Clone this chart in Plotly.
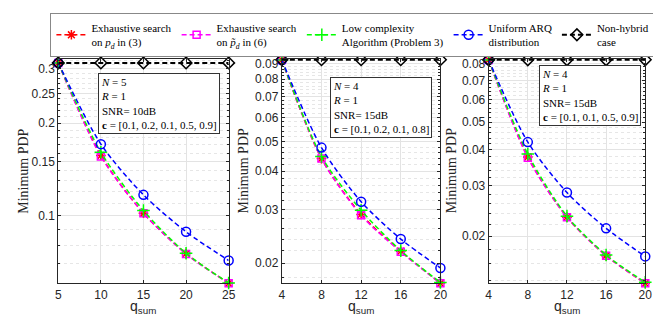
import math
import plotly.graph_objects as go

# ---------------- data ----------------
q1 = [5, 10, 15, 20, 25]
ex_pd_1 = [0.314, 0.157, 0.102, 0.0754, 0.0604]
ex_pt_1 = [0.314, 0.156, 0.102, 0.0752, 0.0604]
low_1 = [0.314, 0.161, 0.104, 0.0756, 0.0605]
unif_1 = [0.314, 0.171, 0.117, 0.0888, 0.0716]
nonhyb_1 = [0.314, 0.314, 0.314, 0.314, 0.314]

q2 = [4, 8, 12, 16, 20]
ex_pd_2 = [0.0925, 0.0440, 0.0289, 0.0219, 0.0172]
ex_pt_2 = [0.0925, 0.0440, 0.0287, 0.0218, 0.0172]
low_2 = [0.0925, 0.0447, 0.0298, 0.0220, 0.0173]
unif_2 = [0.0925, 0.0478, 0.0318, 0.0240, 0.0193]
nonhyb_2 = [0.0927, 0.0927, 0.0927, 0.0927, 0.0927]

q3 = [4, 8, 12, 16, 20]
ex_pd_3 = [0.0825, 0.0378, 0.0233, 0.0171, 0.0137]
ex_pt_3 = [0.0825, 0.0376, 0.0233, 0.0171, 0.0137]
low_3 = [0.0825, 0.0387, 0.0235, 0.0172, 0.0138]
unif_3 = [0.0825, 0.0426, 0.0284, 0.0213, 0.0170]
nonhyb_3 = [0.0826, 0.0826, 0.0826, 0.0826, 0.0826]

yticks_1 = [0.1, 0.15, 0.2, 0.25, 0.3]
yticks_2 = [0.02, 0.03, 0.04, 0.05, 0.06, 0.07, 0.08, 0.09]
yticks_3 = [0.02, 0.03, 0.04, 0.05, 0.06, 0.07, 0.08]

legend_names = [
    "Exhaustive search<br>on <i>p<sub>d</sub></i> in (3)",
    "Exhaustive search<br>on <i>p̃<sub>d</sub></i> in (6)",
    "Low complexity<br>Algorithm (Problem 3)",
    "Uniform ARQ<br>distribution",
    "Non-hybrid<br>case",
]

box_texts = [
    "<i>N</i> = 5<br><i>R</i> = 1<br>SNR= 10dB<br><b>c</b> = [0.1, 0.2, 0.1, 0.5, 0.9]",
    "<i>N</i> = 4<br><i>R</i> = 1<br>SNR= 15dB<br><b>c</b> = [0.1, 0.2, 0.1, 0.8]",
    "<i>N</i> = 4<br><i>R</i> = 1<br>SNR= 15dB<br><b>c</b> = [0.1, 0.1, 0.5, 0.9]",
]

# ---------------- layout constants ----------------
W, H = 661, 317
SERIF = "Liberation Serif, Times New Roman, serif"
SANS = "Liberation Sans, Arial, sans-serif"
AX = "#262626"

x_px = [(48, 221), (275, 436), (485, 644)]
y_px = (49, 275)
y_top = [0.324, 0.0934, 0.0833]
minor_step = [0.01, 0.002, 0.002]
box_pos = [(88, 63), (324, 67), (536, 55)]
ylab_x = [13, 237, 448]

styles = [
    dict(color="#FF0000", symbol="asterisk-open", size=8),
    dict(color="#FF00FF", symbol="square-open", size=7),
    dict(color="#00FF00", symbol="cross-thin-open", size=9),
    dict(color="#0000FF", symbol="circle-open", size=9),
    dict(color="#000000", symbol="diamond-open", size=9),
]

panels = [
    (q1, [ex_pd_1, ex_pt_1, low_1, unif_1, nonhyb_1], yticks_1),
    (q2, [ex_pd_2, ex_pt_2, low_2, unif_2, nonhyb_2], yticks_2),
    (q3, [ex_pd_3, ex_pt_3, low_3, unif_3, nonhyb_3], yticks_3),
]

fig = go.Figure()
annotations = []
for p, (q, series, yt) in enumerate(panels):
    xa = "x" if p == 0 else f"x{p+1}"
    ya = "y" if p == 0 else f"y{p+1}"
    for s, (vals, st) in enumerate(zip(series, styles)):
        fig.add_trace(go.Scatter(
            x=q, y=vals, xaxis=xa, yaxis=ya,
            mode="lines+markers",
            name=legend_names[s],
            showlegend=(p == 0),
            cliponaxis=False,
            line=dict(color=st["color"], width=2 if s == 4 else 1.5,
                      dash="5px,3px", shape="spline" if s < 4 else "linear",
                      smoothing=0.8),
            marker=dict(symbol=st["symbol"], size=st["size"], color=st["color"],
                        line=dict(color=st["color"], width=1.5)),
        ))
    lo = min(min(v) for v in series)
    hi = y_top[p]
    n0 = int(math.floor(lo / minor_step[p]))
    n1 = int(math.ceil(hi / minor_step[p]))
    minor_vals = [round(k * minor_step[p], 6) for k in range(n0, n1 + 1)]
    minor_vals = [v for v in minor_vals if lo <= v <= hi and all(abs(v - t) > 1e-9 for t in yt)]

    xdom = [x_px[p][0] / W, x_px[p][1] / W]
    ydom = [1 - y_px[1] / H, 1 - y_px[0] / H]
    xkey = "xaxis" if p == 0 else f"xaxis{p+1}"
    ykey = "yaxis" if p == 0 else f"yaxis{p+1}"
    fig.update_layout(**{
        xkey: dict(domain=xdom, range=[q[0], q[-1]], tickvals=q,
                   ticktext=[str(v) for v in q], anchor=ya,
                   showline=True, linecolor=AX, linewidth=1, mirror="ticks",
                   ticks="inside", ticklen=3, tickcolor=AX,
                   showgrid=True, gridcolor="#e3e3e3", gridwidth=1,
                   zeroline=False,
                   tickfont=dict(family=SANS, size=12, color=AX)),
        ykey: dict(domain=ydom, type="log", range=[math.log10(lo), math.log10(hi)],
                   tickvals=yt, ticktext=[f"{v:g}" for v in yt], anchor=xa,
                   showline=True, linecolor=AX, linewidth=1, mirror="ticks",
                   ticks="inside", ticklen=3, tickcolor=AX,
                   showgrid=True, gridcolor="#e3e3e3", gridwidth=1,
                   zeroline=False,
                   minor=dict(tickvals=minor_vals, showgrid=True, gridcolor="#e6e6e6",
                              griddash="dot", ticks="inside", ticklen=2, tickcolor=AX),
                   tickfont=dict(family=SANS, size=12, color=AX)),
    })
    bx, by = box_pos[p]
    annotations.append(dict(
        xref="paper", yref="paper", x=bx / W, y=1 - by / H,
        xanchor="left", yanchor="top", align="left", showarrow=False,
        text=box_texts[p], font=dict(family=SERIF, size=11, color="black"),
        bordercolor="#333333", borderwidth=1, borderpad=2, bgcolor="white"))
    annotations.append(dict(
        xref="paper", yref="paper", x=ylab_x[p] / W, y=1 - (sum(y_px) / 2) / H,
        xanchor="center", yanchor="middle", textangle=-90, showarrow=False,
        text="Minimum PDP", font=dict(family=SERIF, size=14, color=AX)))
    annotations.append(dict(
        xref="paper", yref="paper", x=(sum(x_px[p]) / 2) / W, y=1 - 299 / H,
        xanchor="center", yanchor="middle", showarrow=False,
        text="q<sub>sum</sub>", font=dict(family=SANS, size=14, color=AX)))

fig.update_layout(
    width=W, height=H,
    margin=dict(l=0, r=0, t=0, b=0),
    paper_bgcolor="white", plot_bgcolor="white",
    annotations=annotations,
    showlegend=True,
    legend=dict(orientation="h", x=40 / W, y=1 - 3 / H, xanchor="left", yanchor="top",
                bgcolor="white", bordercolor="#888888", borderwidth=1,
                font=dict(family=SERIF, size=11, color="black"),
                itemwidth=30, tracegroupgap=0, traceorder="normal", valign="middle"),
)

fig.write_html("out.html")
